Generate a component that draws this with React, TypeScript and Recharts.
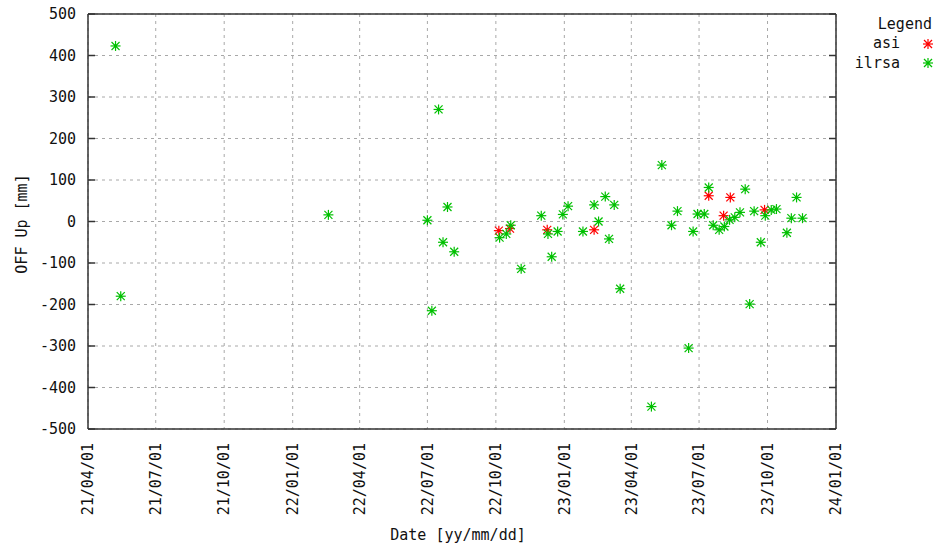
import React from 'react';
import {
  ScatterChart, Scatter, XAxis, YAxis, CartesianGrid,
} from 'recharts';

// OFF Up residuals per station, dates as yyyy-mm-dd
const asiDates = [
  '2022-10-05', '2022-10-20', '2022-12-09', '2023-02-10',
  '2023-07-14', '2023-08-03', '2023-08-12', '2023-09-27',
];
const asiValues = [-22, -17, -20, -20, 62, 14, 58, 28];

const ilrsaDates = [
  '2021-05-08', '2021-05-15', '2022-02-18', '2022-07-01', '2022-07-07', '2022-07-16',
  '2022-07-22', '2022-07-28', '2022-08-06', '2022-10-06', '2022-10-15', '2022-10-21',
  '2022-11-04', '2022-12-01', '2022-12-10', '2022-12-15', '2022-12-23', '2022-12-30',
  '2023-01-06', '2023-01-26', '2023-02-10', '2023-02-16', '2023-02-25', '2023-03-02',
  '2023-03-09', '2023-03-17', '2023-04-28', '2023-05-12', '2023-05-25', '2023-06-02',
  '2023-06-17', '2023-06-23', '2023-06-29', '2023-07-08', '2023-07-14', '2023-07-20',
  '2023-07-28', '2023-08-04', '2023-08-11', '2023-08-18', '2023-08-25', '2023-09-01',
  '2023-09-07', '2023-09-13', '2023-09-22', '2023-09-28', '2023-10-06', '2023-10-13',
  '2023-10-27', '2023-11-02', '2023-11-09', '2023-11-17',
];
const ilrsaValues = [
  423, -180, 16, 3, -215, 270,
  -50, 35, -73, -39, -30, -9,
  -114, 14, -30, -85, -24, 17,
  37, -24, 40, 0, 60, -42,
  40, -162, -446, 136, -9, 25,
  -305, -24, 18, 18, 82, -9,
  -20, -12, 4, 10, 22, 78,
  -199, 25, -50, 14, 28, 30,
  -27, 8, 58, 8,
];

const quarterTicks = [
  '2021-04-01', '2021-07-01', '2021-10-01', '2022-01-01', '2022-04-01', '2022-07-01',
  '2022-10-01', '2023-01-01', '2023-04-01', '2023-07-01', '2023-10-01', '2024-01-01',
];
const yTicks = [-500, -400, -300, -200, -100, 0, 100, 200, 300, 400, 500];

const FONT = '"DejaVu Sans Mono", monospace';
const AXIS = '#333';
const RED = '#ff0000';
const GREEN = '#00c000';

const ts = (s: string) => Date.parse(`${s}T00:00:00Z`);
const fmtDate = (t: number) => new Date(t).toISOString().slice(2, 10).replace(/-/g, '/');

const xDomain = [ts(quarterTicks[0]), ts(quarterTicks[quarterTicks.length - 1])];
const xMajor = quarterTicks.map(ts);

// one minor tick per month
const xMinor: number[] = [];
for (let d = new Date(xDomain[0]); d.getTime() <= xDomain[1]; d.setUTCMonth(d.getUTCMonth() + 1)) {
  xMinor.push(d.getTime());
}

const toPoints = (dates: string[], values: number[]) =>
  dates.map((d, i) => ({ t: ts(d), v: values[i] }));

const series = [
  { name: 'asi', color: RED, data: toPoints(asiDates, asiValues) },
  { name: 'ilrsa', color: GREEN, data: toPoints(ilrsaDates, ilrsaValues) },
];

// gnuplot style "*" point
const StarMark = ({ cx, cy, color }: { cx: number; cy: number; color: string }) => (
  <g stroke={color} strokeWidth={1.2}>
    <line x1={cx - 5} y1={cy} x2={cx + 5} y2={cy} />
    <line x1={cx} y1={cy - 5} x2={cx} y2={cy + 5} />
    <line x1={cx - 4} y1={cy - 4} x2={cx + 4} y2={cy + 4} />
    <line x1={cx - 4} y1={cy + 4} x2={cx + 4} y2={cy - 4} />
    <circle cx={cx} cy={cy} r={1.6} fill={color} stroke="none" />
  </g>
);

const DateTick = ({ x, y, payload }: any) => (
  <text
    x={x}
    y={y}
    transform={`rotate(-90, ${x}, ${y})`}
    textAnchor="end"
    dy="0.35em"
    fontFamily={FONT}
    fontSize={15}
    fill="#111"
  >
    {fmtDate(payload.value)}
  </text>
);

const NoLabel = () => <g />;

// mirrored axes only carry inward tick marks and the frame
const tickAxisProps = {
  type: 'number' as const,
  tick: <NoLabel />,
  allowDataOverflow: true,
  interval: 0 as const,
  stroke: AXIS,
  tickLine: { stroke: AXIS, strokeWidth: 1.5 },
};

const App: React.FC = () => (
  <div style={{ position: 'absolute', left: 0, top: 0, width: 943, height: 547, background: '#fff' }}>
    <ScatterChart width={943} height={547} margin={{ top: 14, right: 107, bottom: 0, left: 0 }}>
      <CartesianGrid stroke="#a8a8a8" strokeDasharray="3 4" />
      <XAxis
        dataKey="t"
        type="number"
        domain={xDomain}
        ticks={xMajor}
        interval={0}
        allowDataOverflow
        height={118}
        tick={<DateTick />}
        tickLine={false}
        axisLine={false}
        tickSize={0}
        tickMargin={14}
      />
      <YAxis
        dataKey="v"
        type="number"
        domain={[-500, 500]}
        ticks={yTicks}
        interval={0}
        allowDataOverflow
        width={88}
        tickLine={false}
        axisLine={false}
        tickSize={6}
        tickMargin={6}
        tick={{ fontFamily: FONT, fontSize: 15, fill: '#111' }}
      />
      <XAxis xAxisId="bMinor" orientation="bottom" mirror height={10} domain={xDomain} ticks={xMinor} tickSize={3} axisLine={false} {...tickAxisProps} />
      <XAxis xAxisId="bMajor" orientation="bottom" mirror height={10} domain={xDomain} ticks={xMajor} tickSize={6} axisLine={{ stroke: AXIS, strokeWidth: 1.5 }} {...tickAxisProps} />
      <XAxis xAxisId="tMinor" orientation="top" mirror height={10} domain={xDomain} ticks={xMinor} tickSize={3} axisLine={false} {...tickAxisProps} />
      <XAxis xAxisId="tMajor" orientation="top" mirror height={10} domain={xDomain} ticks={xMajor} tickSize={6} axisLine={{ stroke: AXIS, strokeWidth: 1.5 }} {...tickAxisProps} />
      <YAxis yAxisId="lTicks" orientation="left" mirror width={10} domain={[-500, 500]} ticks={yTicks} tickSize={7} axisLine={{ stroke: AXIS, strokeWidth: 1.5 }} {...tickAxisProps} />
      <YAxis yAxisId="rTicks" orientation="right" mirror width={10} domain={[-500, 500]} ticks={yTicks} tickSize={7} axisLine={{ stroke: AXIS, strokeWidth: 1.5 }} {...tickAxisProps} />
      {series.map(s => (
        <Scatter
          key={s.name}
          name={s.name}
          data={s.data}
          isAnimationActive={false}
          shape={(p: any) => <StarMark cx={p.cx} cy={p.cy} color={s.color} />}
        />
      ))}
    </ScatterChart>

    {/* axis titles */}
    <div style={{
      position: 'absolute', left: 22, top: 224, transform: 'translate(-50%, -50%) rotate(-90deg)',
      fontFamily: FONT, fontSize: 15, color: '#111', whiteSpace: 'nowrap',
    }}>
      OFF Up [mm]
    </div>
    <div style={{
      position: 'absolute', left: 458, top: 535, transform: 'translate(-50%, -50%)',
      fontFamily: FONT, fontSize: 15, color: '#111', whiteSpace: 'nowrap',
    }}>
      Date [yy/mm/dd]
    </div>

    {/* legend */}
    <div style={{ position: 'absolute', right: 11, top: 15, fontFamily: FONT, fontSize: 15, color: '#111', lineHeight: '19px' }}>
      Legend
    </div>
    {series.map((s, i) => (
      <div key={s.name} style={{ position: 'absolute', top: 34 + i * 19.5, right: 0, width: 120, height: 19 }}>
        <span style={{
          position: 'absolute', right: 43, top: 0, fontFamily: FONT, fontSize: 15, color: '#111', lineHeight: '19px',
        }}>
          {s.name}
        </span>
        <svg width={14} height={14} style={{ position: 'absolute', right: 8, top: 2.5 }}>
          <StarMark cx={7} cy={7} color={s.color} />
        </svg>
      </div>
    ))}
  </div>
);

export default App;
